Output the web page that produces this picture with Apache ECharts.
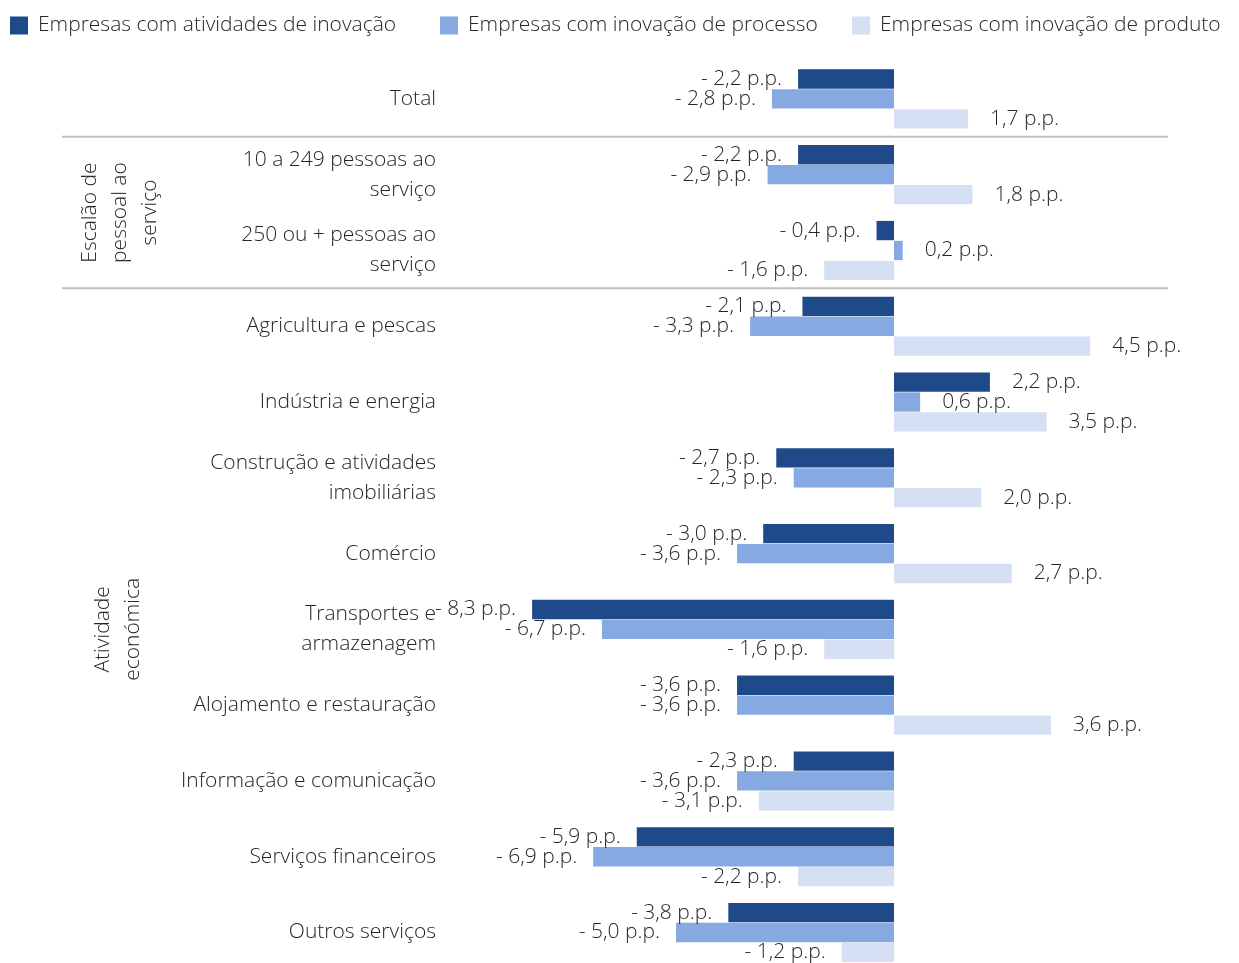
<!DOCTYPE html>
<html><head><meta charset="utf-8">
<script src="https://cdn.jsdelivr.net/npm/echarts@6/dist/echarts.min.js"></script>
<style>html,body{margin:0;padding:0;background:#fff}#c{width:1239px;height:963px}</style>
</head><body><div id="c"></div>
<script>
const categories = ["Total","10 a 249 pessoas ao\nserviço","250 ou + pessoas ao\nserviço","Agricultura e pescas","Indústria e energia","Construção e atividades\nimobiliárias","Comércio","Transportes e\narmazenagem","Alojamento e restauração","Informação e comunicação","Serviços financeiros","Outros serviços"];
const seriesNames = ["Empresas com atividades de inovação","Empresas com inovação de processo","Empresas com inovação de produto"];
const atividades = [-2.2,-2.2,-0.4,-2.1,2.2,-2.7,-3.0,-8.3,-3.6,-2.3,-5.9,-3.8];
const processo   = [-2.8,-2.9,0.2,-3.3,0.6,-2.3,-3.6,-6.7,-3.6,-3.6,-6.9,-5.0];
const produto    = [1.7,1.8,-1.6,4.5,3.5,2.0,2.7,-1.6,3.6,-3.1,-2.2,-1.2];
const groups = [{text:"Escalão de\npessoal ao\nserviço", from:1, to:2},{text:"Atividade\neconómica", from:3, to:11}];
const colors = ["#1F4A8A","#86A9E1","#D5E0F5"];
const FONT = "Open Sans";
const FS = 21;
const TXT = "#262626";

function fmt(v){ const s = Math.abs(v).toFixed(1).replace('.',',') + ' p.p.'; return v<0 ? '- '+s : s; }
function items(arr){ return arr.map(v=>({value:v,label:{position: v<0?'left':'right', distance: v<0?16:22}})); }

const chart = echarts.init(document.getElementById('c'));
const seriesData = [atividades, processo, produto];
const option = {
  animation:false,
  textStyle:{fontFamily:FONT},
  legend: seriesNames.map((n,i)=>({
    data:[n], left:[10,440,852][i], top:15, padding:0, itemWidth:18, itemHeight:18, itemGap:10,
    icon:'rect', textStyle:{fontSize:FS, color:TXT, fontFamily:FONT, fontWeight:300, padding:[0,0,0,5]}
  })),
  grid:{left:458, top:61, height:909.4, width:719.4, containLabel:false, outerBoundsMode:'none'},
  xAxis:{type:'value', min:-10, max:6.5, show:false, splitLine:{show:false}},
  yAxis:{type:'category', data:categories, inverse:true,
    axisLine:{show:false}, axisTick:{show:false},
    axisLabel:{margin:22, fontSize:FS, color:TXT, lineHeight:30, fontFamily:FONT, fontWeight:300}},
  series: seriesData.map((d,i)=>({
    name:seriesNames[i], type:'bar', data:items(d), barGap:'3%', barCategoryGap:'22%',
    itemStyle:{color:colors[i]},
    label:{show:true, formatter:p=>fmt(p.value), fontSize:FS, color:TXT, fontFamily:FONT, fontWeight:300}
  }))
};
chart.setOption(option);

function yPix(i){ return chart.convertToPixel({yAxisIndex:0}, categories[i]); }
const sep1 = (yPix(0)+yPix(1))/2, sep2 = (yPix(2)+yPix(3))/2;
const graphic = [
  {type:'line', shape:{x1:62,y1:sep1,x2:1168,y2:sep1}, style:{stroke:'#BFBFBF', lineWidth:2}},
  {type:'line', shape:{x1:62,y1:sep2,x2:1168,y2:sep2}, style:{stroke:'#BFBFBF', lineWidth:2}}
];
const gx = [120, 118];
groups.forEach((g,k)=>{
  const cy = (yPix(g.from)+yPix(g.to))/2;
  graphic.push({type:'text', x:gx[k], y:cy, rotation:Math.PI/2,
    style:{text:g.text, fontSize:FS, fill:TXT, fontFamily:FONT, fontWeight:300, align:'center', verticalAlign:'middle', lineHeight:30}});
});
chart.setOption({graphic});
</script></body></html>
